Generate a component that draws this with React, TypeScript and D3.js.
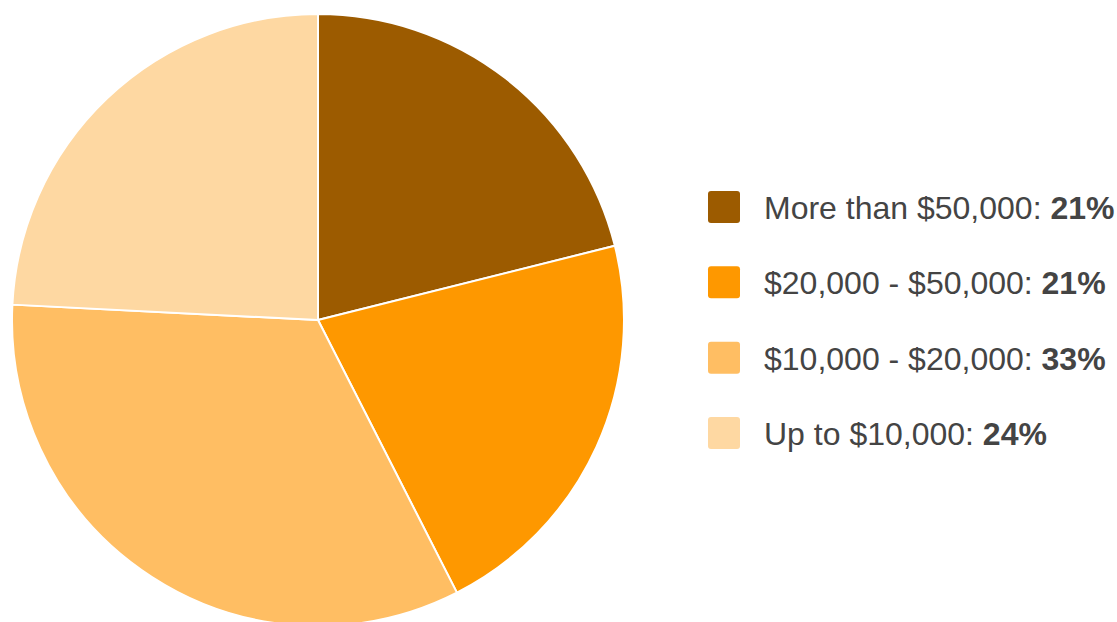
import React from "react";
import * as d3 from "d3";

const categories = ["More than $50,000", "$20,000 - $50,000", "$10,000 - $20,000", "Up to $10,000"];
const values = [21.1, 21.4, 33.3, 24.2];
const labels = ["21%", "21%", "33%", "24%"];
const colors = ["#9c5b00", "#fe9800", "#ffbe63", "#fed8a2"];

export default function App() {
  const W = 1117, H = 622;
  const cx = 318, cy = 320, r = 306;
  const pie = d3.pie<number>().sort(null).value((d) => d);
  const arcs = pie(values);
  const arc = d3.arc<d3.PieArcDatum<number>>().innerRadius(0).outerRadius(r);
  const legendY = d3.scaleLinear().domain([0, 3]).range([191, 417]);
  return (
    <svg width={W} height={H} style={{ position: "absolute", left: 0, top: 0 }}>
      <rect width={W} height={H} fill="#fff" />
      <g transform={`translate(${cx},${cy})`}>
        {arcs.map((a, i) => (
          <path key={i} d={arc(a) || ""} fill={colors[i]} stroke="#fff" strokeWidth={2} strokeLinejoin="round" />
        ))}
      </g>
      {categories.map((c, i) => (
        <g key={c} transform={`translate(708,${legendY(i)})`}>
          <rect width={32} height={32} rx={3} fill={colors[i]} />
          <text x={56} y={28} fontFamily="'Liberation Sans', Arial, Helvetica, sans-serif" fontSize={32} fill="#444">
            {c}: <tspan fontWeight="bold">{labels[i]}</tspan>
          </text>
        </g>
      ))}
    </svg>
  );
}
